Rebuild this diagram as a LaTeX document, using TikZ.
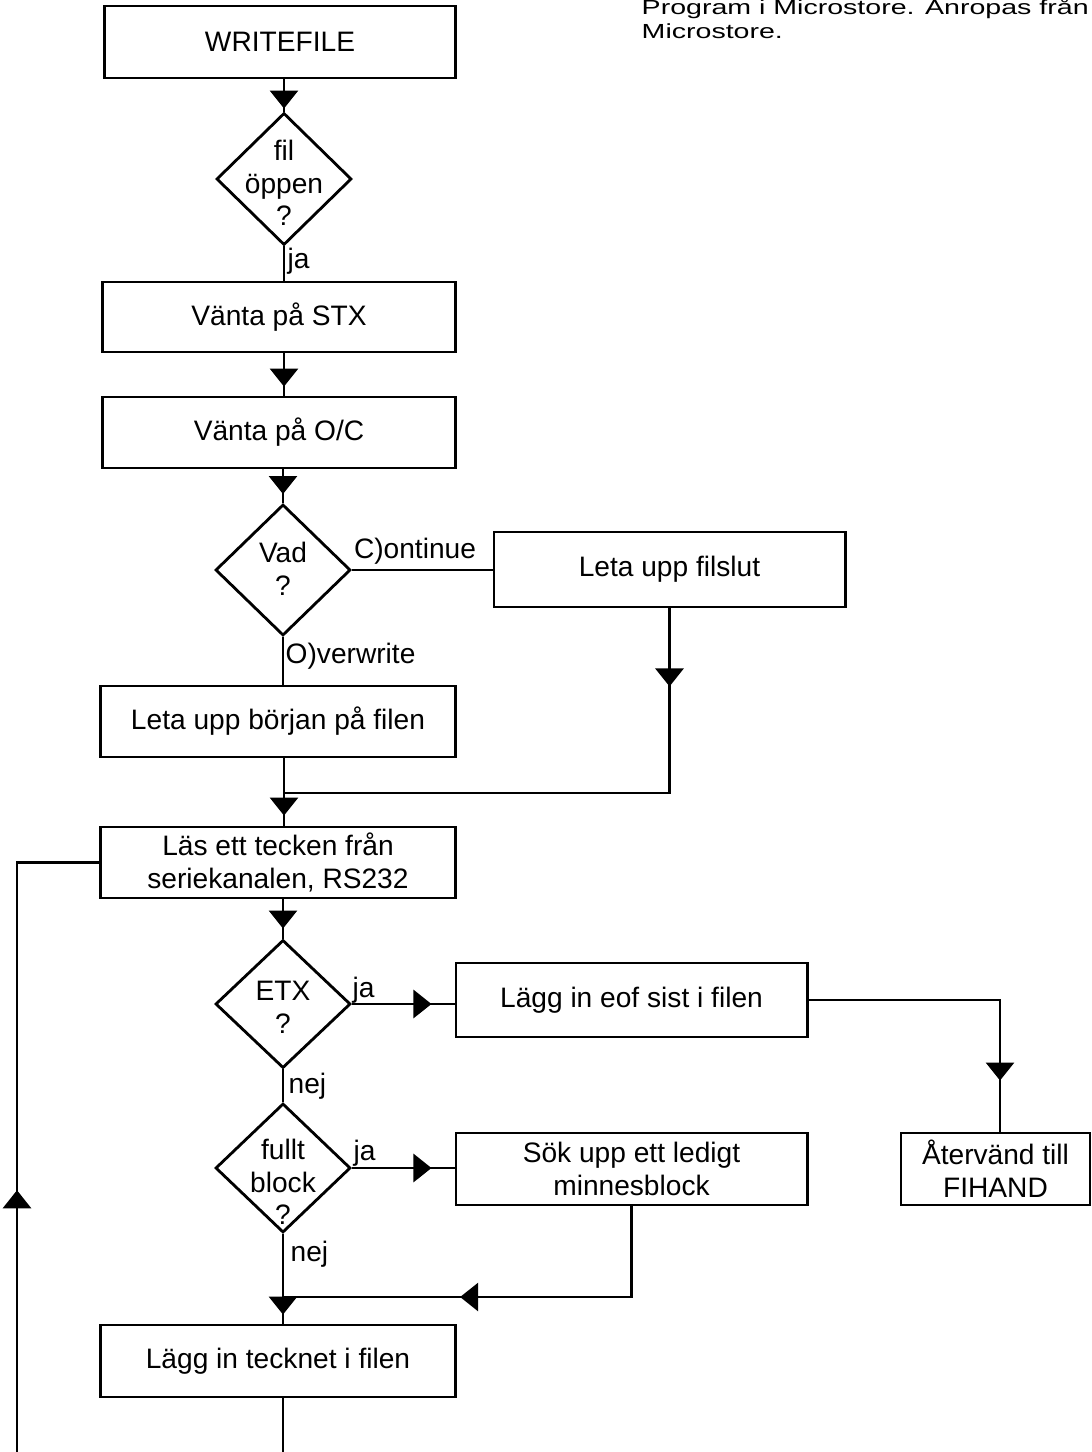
\documentclass[tikz,border=0pt]{standalone}
\usepackage{fontspec}
\setmainfont{Liberation Sans}
\newfontfamily\notefont[FakeStretch=1.4]{Liberation Sans}
\usetikzlibrary{shapes.geometric,arrows.meta,decorations.markings}

\tikzset{
  >={Triangle[length=0.18cm,width=0.28cm]},
  every node/.style={font=\fontsize{8}{9.3}\selectfont},
  proc/.style={draw, line width=0.8pt, rectangle, inner sep=0pt, align=center},
  dia/.style={draw, line width=0.8pt, diamond, inner sep=0pt,
              minimum width=1.35cm, minimum height=#1},
  dtext/.style={align=center, inner sep=0pt},
  lbl/.style={anchor=west, inner sep=0pt},
  flow/.style={line width=0.8pt},
  tipat/.style={postaction={decorate},
    decoration={markings, mark=at position #1 with {\arrow{>}}}},
}

\begin{document}
\begin{tikzpicture}[x=0.01cm, y=-0.01cm]
  \useasboundingbox (0,0) rectangle (1091,1452);

  % note in the upper right corner
  \node[anchor=base west, inner sep=0pt, font=\notefont\fontsize{5.8}{6.9}\selectfont]
    (note1) at (641,15) {Program i Microstore. Anropas från};
  \node[anchor=base west, inner sep=0pt, font=\notefont\fontsize{5.8}{6.9}\selectfont]
    (note2) at (641,39) {Microstore.};

  % process boxes
  \node[proc, minimum width=3.50cm, minimum height=0.72cm] (b1)  at (280,42)    {WRITEFILE};
  \node[proc, minimum width=3.52cm, minimum height=0.70cm] (b2)  at (279,317)   {Vänta på STX};
  \node[proc, minimum width=3.52cm, minimum height=0.71cm] (b3)  at (279,432.5) {Vänta på O/C};
  \node[proc, minimum width=3.51cm, minimum height=0.75cm] (b4)  at (669.5,569.5) {Leta upp filslut};
  \node[proc, minimum width=3.54cm, minimum height=0.71cm] (b5)  at (278,721.5) {Leta upp början på filen};
  \node[proc, minimum width=3.54cm, minimum height=0.71cm] (b6)  at (278,862.5) {Läs ett tecken från\\seriekanalen, RS232};
  \node[proc, minimum width=3.51cm, minimum height=0.74cm] (b7)  at (631.5,1000) {Lägg in eof sist i filen};
  \node[proc, minimum width=1.89cm, minimum height=0.72cm] (b8)  at (995.5,1169) {Återvänd till\\FIHAND};
  \node[proc, minimum width=3.51cm, minimum height=0.72cm] (b9)  at (631.5,1169) {Sök upp ett ledigt\\minnesblock};
  \node[proc, minimum width=3.54cm, minimum height=0.72cm] (b10) at (278,1361)  {Lägg in tecknet i filen};

  % decisions
  \node[dia=1.32cm] (d1) at (284,179)  {};
  \node[dtext] (d1t) at (284,183) {fil\\öppen\\?};
  \node[dia=1.31cm] (d2) at (283,570)  {};
  \node[dtext] (d2t) at (283,569) {Vad\\?};
  \node[dia=1.28cm] (d3) at (283,1004) {};
  \node[dtext] (d3t) at (283,1007) {ETX\\?};
  \node[dia=1.29cm] (d4) at (283,1168) {};
  \node[dtext] (d4t) at (283,1182) {fullt\\block\\?};

  % branch labels
  \node[lbl] (l1) at (287,261)  {ja};
  \node (l2) at (415,551) {C)ontinue};
  \node[lbl] (l3) at (285,656)  {O)verwrite};
  \node[lbl] (l4) at (352,990)  {ja};
  \node[lbl] (l5) at (288,1086) {nej};
  \node[lbl] (l6) at (353,1153) {ja};
  \node[lbl] (l7) at (290,1254) {nej};

  % junction and corner points
  \coordinate (j1) at (284,793);
  \coordinate (j2) at (283,1297);
  \coordinate (c1) at (1000,1000);
  \coordinate (lp) at (17,1490);

  % main column
  \draw[flow, tipat=-0.03cm] (b1.south -| d1.north) -- (d1.north);
  \draw[flow] (d1.south) -- (d1.south |- b2.north);
  \draw[flow, tipat=-0.09cm] (d1.south |- b2.south) -- (d1.south |- b3.north);
  \draw[flow, tipat=-0.09cm] (d2.north |- b3.south) -- (d2.north);
  \draw[flow] (d2.east) -- (d2.east -| b4.west);
  \draw[flow] (d2.south) -- (d2.south |- b5.north);
  \draw[flow, tipat=0.78cm] (b4.south) -- (b4.south |- j1) -- (j1);
  \draw[flow, tipat=-0.1cm] (j1 |- b5.south) -- (j1 |- b6.north);
  \draw[flow, tipat=-0.1cm] (d3.north |- b6.south) -- (d3.north);
  \draw[flow, tipat=-0.23cm] (d3.east) -- (d3.east -| b7.west);
  \draw[flow, tipat=-0.51cm] (b7.east) -- (c1) -- (c1 |- b8.north);
  \draw[flow] (d3.south) -- (d4.north);
  \draw[flow, tipat=-0.23cm] (d4.east) -- (d4.east -| b9.west);
  \draw[flow, tipat=-1.77cm] (b9.south) -- (b9.south |- j2) -- (j2);
  \draw[flow, tipat=-0.09cm] (d4.south) -- (d4.south |- b10.north);

  % loop back to reading the next character
  \draw[flow, tipat=-4.1cm] (d4.south |- b10.south) -- (d4.south |- lp) -- (lp)
    -- (lp |- b6.west) -- (b6.west);
\end{tikzpicture}
\end{document}
